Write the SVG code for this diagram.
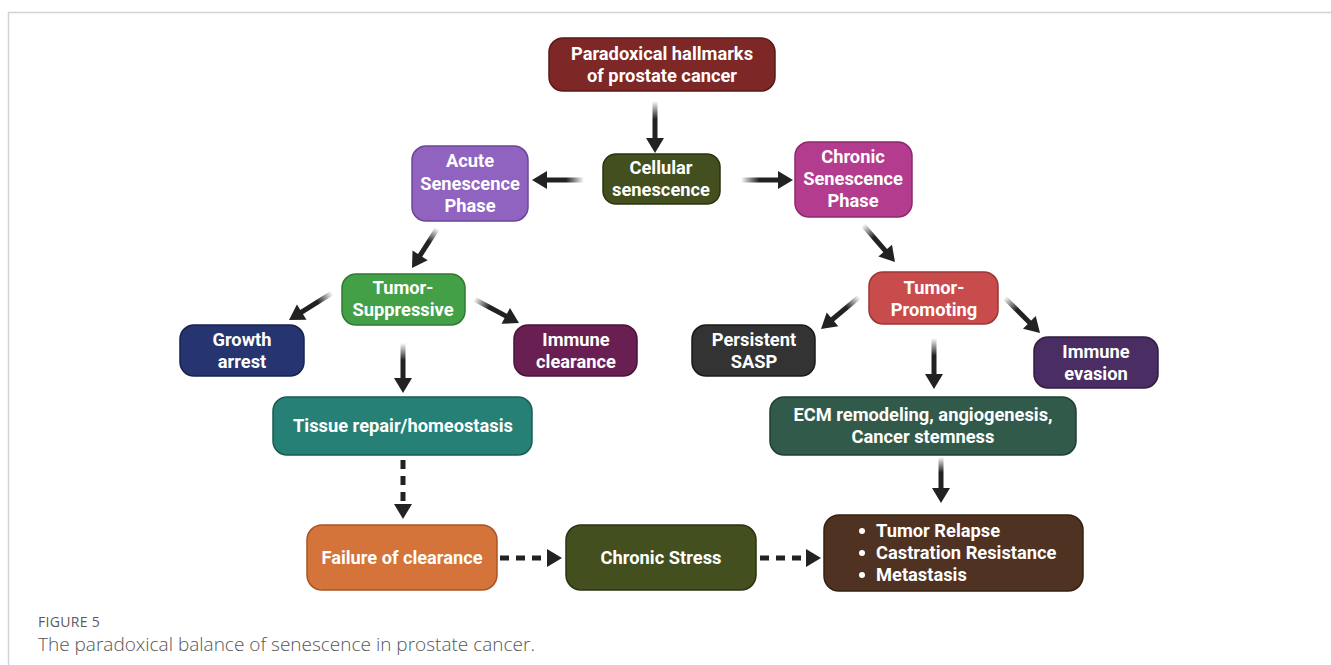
<svg xmlns="http://www.w3.org/2000/svg" xmlns:xlink="http://www.w3.org/1999/xlink" width="1331" height="665" viewBox="0 0 1331 665">
<style>
.box{stroke-width:1.5}
.t{font-family:Roboto,"Liberation Sans",sans-serif;font-weight:bold;font-size:18.3px;fill:#fff;text-anchor:middle}
.tl{font-family:Roboto,"Liberation Sans",sans-serif;font-weight:bold;font-size:18.3px;fill:#fff}
.dash{stroke:#222;stroke-width:5;stroke-dasharray:9 7;fill:none}
.cap1{font-family:"Open Sans","Liberation Sans",sans-serif;font-size:14px;fill:#5a5a5a;letter-spacing:0.3px}
.cap2{font-family:"Open Sans","Liberation Sans",sans-serif;font-size:19px;fill:#555;font-weight:300}
</style>
<defs>
<linearGradient id="fade" x1="0" y1="0" x2="1" y2="0">
<stop offset="0" stop-color="#222" stop-opacity="0"/>
<stop offset="0.45" stop-color="#222" stop-opacity="1"/>
<stop offset="1" stop-color="#222" stop-opacity="1"/>
</linearGradient>
<polygon id="head" points="0,0 -15,-9 -15,9" fill="#222"/>
</defs>
<rect width="1331" height="665" fill="#fff"/>
<path d="M8.5,665 V12.5 H1331" fill="none" stroke="#d2d2da" stroke-width="1.5"/>

<g id="connectors">
<g transform="translate(655,153) rotate(90)"><rect x="-52" y="-2.5" width="40" height="5" fill="url(#fade)"/><use xlink:href="#head"/></g>
<g transform="translate(532,180) rotate(180)"><rect x="-52" y="-2.5" width="40" height="5" fill="url(#fade)"/><use xlink:href="#head"/></g>
<g transform="translate(793,180)"><rect x="-52" y="-2.5" width="40" height="5" fill="url(#fade)"/><use xlink:href="#head"/></g>
<g transform="translate(412,268) rotate(122.7)"><rect x="-47" y="-2.5" width="35" height="5" fill="url(#fade)"/><use xlink:href="#head"/></g>
<g transform="translate(289,320) rotate(147.9)"><rect x="-51" y="-2.5" width="39" height="5" fill="url(#fade)"/><use xlink:href="#head"/></g>
<g transform="translate(519,323) rotate(28.1)"><rect x="-51" y="-2.5" width="39" height="5" fill="url(#fade)"/><use xlink:href="#head"/></g>
<g transform="translate(403,393) rotate(90)"><rect x="-50" y="-2.5" width="38" height="5" fill="url(#fade)"/><use xlink:href="#head"/></g>
<g transform="translate(895,262) rotate(49.1)"><rect x="-49" y="-2.5" width="37" height="5" fill="url(#fade)"/><use xlink:href="#head"/></g>
<g transform="translate(821,329) rotate(140)"><rect x="-50" y="-2.5" width="38" height="5" fill="url(#fade)"/><use xlink:href="#head"/></g>
<g transform="translate(1040,333) rotate(45)"><rect x="-50" y="-2.5" width="38" height="5" fill="url(#fade)"/><use xlink:href="#head"/></g>
<g transform="translate(934,389) rotate(90)"><rect x="-51" y="-2.5" width="39" height="5" fill="url(#fade)"/><use xlink:href="#head"/></g>
<g transform="translate(941,503) rotate(90)"><rect x="-46" y="-2.5" width="34" height="5" fill="url(#fade)"/><use xlink:href="#head"/></g>
<line class="dash" x1="403" y1="460" x2="403" y2="504"/>
<use xlink:href="#head" transform="translate(403,519) rotate(90)"/>
<line class="dash" x1="500" y1="558" x2="547" y2="558"/>
<use xlink:href="#head" transform="translate(562,558)"/>
<line class="dash" x1="760" y1="558" x2="806" y2="558"/>
<use xlink:href="#head" transform="translate(821,558)"/>
</g>

<g id="n-paradoxical">
<rect class="box" x="549" y="38" width="226" height="53" rx="14" fill="#7d2727" stroke="#5a1a1a"/>
<text class="t" x="662" y="60">Paradoxical hallmarks</text>
<text class="t" x="662" y="82">of prostate cancer</text>
</g>
<g id="n-cellular">
<rect class="box" x="603" y="154" width="117" height="50" rx="13" fill="#434f1f" stroke="#2a3312"/>
<text class="t" x="661" y="174">Cellular</text>
<text class="t" x="661" y="196">senescence</text>
</g>
<g id="n-acute">
<rect class="box" x="412" y="146" width="116" height="75" rx="14" fill="#9163c0" stroke="#6c4596"/>
<text class="t" x="470" y="167">Acute</text>
<text class="t" x="470" y="190">Senescence</text>
<text class="t" x="470" y="212">Phase</text>
</g>
<g id="n-chronic">
<rect class="box" x="795" y="142" width="117" height="75" rx="14" fill="#b43c8e" stroke="#8a2a6b"/>
<text class="t" x="853" y="163">Chronic</text>
<text class="t" x="853" y="185">Senescence</text>
<text class="t" x="853" y="207">Phase</text>
</g>
<g id="n-tumor-suppressive">
<rect class="box" x="342" y="274" width="123" height="51" rx="14" fill="#43a046" stroke="#2e7a31"/>
<text class="t" x="403" y="294">Tumor-</text>
<text class="t" x="403" y="316">Suppressive</text>
</g>
<g id="n-growth">
<rect class="box" x="180" y="325" width="124" height="51" rx="14" fill="#263570" stroke="#18224d"/>
<text class="t" x="242" y="346">Growth</text>
<text class="t" x="242" y="368">arrest</text>
</g>
<g id="n-immune-clearance">
<rect class="box" x="514" y="325" width="123" height="51" rx="14" fill="#6a1f52" stroke="#4a1339"/>
<text class="t" x="576" y="346">Immune</text>
<text class="t" x="576" y="368">clearance</text>
</g>
<g id="n-tissue">
<rect class="box" x="273" y="397" width="259" height="58" rx="14" fill="#268075" stroke="#1a5c54"/>
<text class="t" x="403" y="432">Tissue repair/homeostasis</text>
</g>
<g id="n-tumor-promoting">
<rect class="box" x="869" y="272" width="129" height="52" rx="14" fill="#c94c4c" stroke="#9c3535"/>
<text class="t" x="934" y="294">Tumor-</text>
<text class="t" x="934" y="316">Promoting</text>
</g>
<g id="n-persistent">
<rect class="box" x="692" y="325" width="123" height="51" rx="14" fill="#333333" stroke="#1a1a1a"/>
<text class="t" x="754" y="346">Persistent</text>
<text class="t" x="754" y="368">SASP</text>
</g>
<g id="n-immune-evasion">
<rect class="box" x="1034" y="337" width="124" height="51" rx="14" fill="#4a2d63" stroke="#301c42"/>
<text class="t" x="1096" y="358">Immune</text>
<text class="t" x="1096" y="380">evasion</text>
</g>
<g id="n-ecm">
<rect class="box" x="770" y="397" width="306" height="58" rx="14" fill="#325a4a" stroke="#213e33"/>
<text class="t" x="923" y="421">ECM remodeling, angiogenesis,</text>
<text class="t" x="923" y="443">Cancer stemness</text>
</g>
<g id="n-failure">
<rect class="box" x="307" y="525" width="190" height="65" rx="15" fill="#d4733a" stroke="#a85526"/>
<text class="t" x="402" y="564" textLength="161" lengthAdjust="spacingAndGlyphs">Failure of clearance</text>
</g>
<g id="n-chronic-stress">
<rect class="box" x="566" y="525" width="190" height="65" rx="15" fill="#434f1f" stroke="#2a3312"/>
<text class="t" x="661" y="564" textLength="121" lengthAdjust="spacingAndGlyphs">Chronic Stress</text>
</g>
<g id="n-outcome">
<rect class="box" x="824" y="515" width="259" height="76" rx="15" fill="#4f3222" stroke="#33200f"/>
<circle cx="862" cy="531" r="3" fill="#fff"/>
<circle cx="862" cy="553" r="3" fill="#fff"/>
<circle cx="862" cy="575" r="3" fill="#fff"/>
<text class="tl" x="876" y="537">Tumor Relapse</text>
<text class="tl" x="876" y="559">Castration Resistance</text>
<text class="tl" x="876" y="581">Metastasis</text>
</g>

<text class="cap1" x="38" y="627">FIGURE 5</text>
<text class="cap2" x="38" y="651">The paradoxical balance of senescence in prostate cancer.</text>
</svg>
